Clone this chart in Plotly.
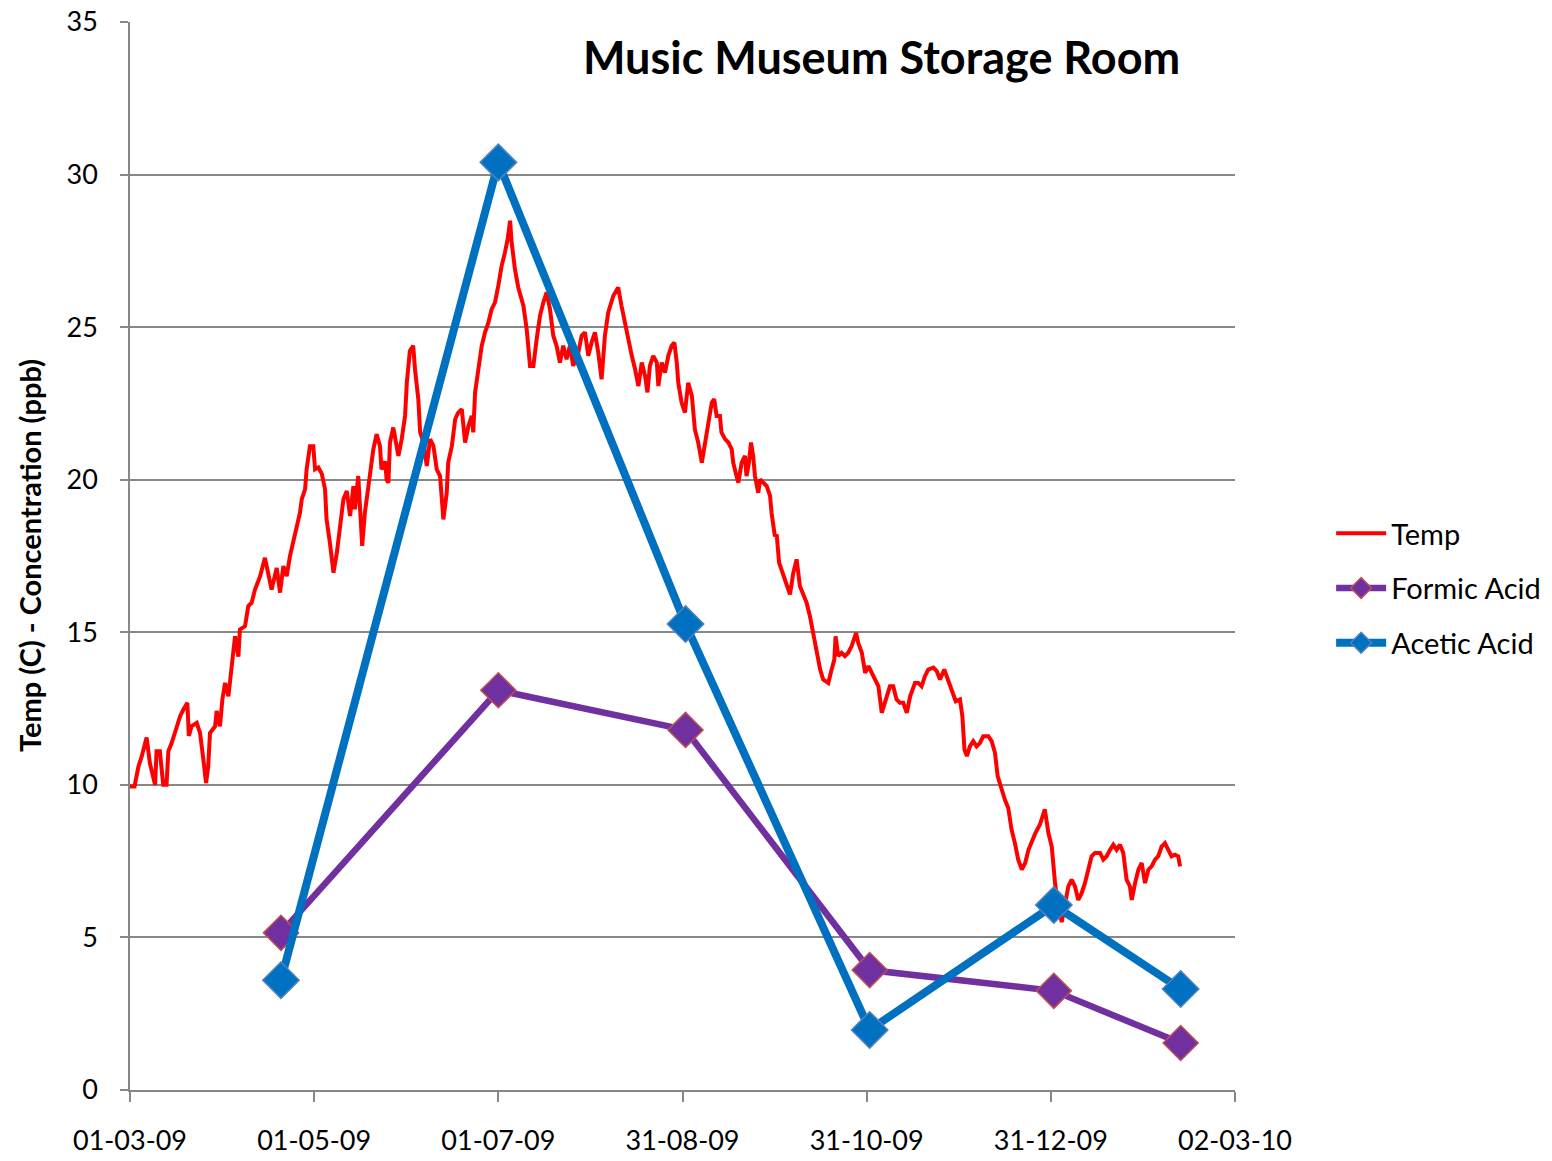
import pandas as pd
import plotly.graph_objects as go

# Storage-room temperature log (days after 01-03-09, degrees C)
temp_day = [
    0, 1.5, 2.8, 3.9, 5.5, 6.6, 8.3, 8.8, 9.9, 10.5, 11.0, 12.1, 12.7, 13.8, 14.9,
    16.6, 17.7, 19.0, 19.5, 20.4, 22.1, 23.2, 24.3, 25.2, 25.9, 26.5, 28.2, 28.7,
    29.8, 30.6, 31.5, 32.6, 33.7, 34.8, 35.9, 36.4, 38.1, 39.2, 40.3, 41.4, 42.5,
    43.1, 44.7, 45.8, 46.9, 48.6, 49.7, 50.8, 51.9, 53.0, 54.1, 55.2, 56.3, 56.9,
    58.0, 58.5, 59.6, 60.7, 61.3, 62.4, 63.5, 64.6, 65.1, 66.2, 67.4, 68.5, 69.6,
    70.7, 71.8, 72.9, 74.0, 74.5, 75.6, 76.2, 76.9, 77.8, 78.9, 80.0, 80.6, 81.7,
    82.8, 83.3, 84.5, 85.0, 85.6, 86.1, 87.2, 88.9, 90.0, 91.1, 91.7, 92.7, 93.8,
    94.4, 95.5, 96.1, 97.2, 98.3, 99.4, 100.5, 101.6, 102.7, 103.8, 104.9, 105.4,
    106.6, 107.7, 108.7, 109.9, 111.0, 112.1, 113.2, 113.7, 114.3, 115.4, 116.5,
    117.6, 118.7, 119.8, 120.9, 122.0, 123.1, 124.2, 125.1, 125.9, 126.4, 127.5,
    128.6, 130.3, 131.4, 132.5, 133.6, 134.7, 135.8, 136.9, 138.0, 139.1, 140.2,
    141.3, 142.4, 143.5, 144.6, 145.7, 146.8, 148.5, 149.6, 150.7, 151.8, 152.9,
    154.0, 155.1, 156.2, 157.3, 158.4, 160.1, 161.7, 162.8, 163.9, 165.0, 166.2,
    167.3, 168.4, 169.5, 170.6, 171.4, 172.2, 173.3, 174.5, 175.0, 176.1, 177.2,
    178.3, 179.4, 180.3, 181.1, 181.6, 182.7, 183.8, 184.9, 186.1, 187.1, 188.2,
    189.4, 190.5, 191.6, 192.7, 193.5, 194.3, 195.4, 195.9, 197.1, 198.2, 199.3,
    199.8, 200.9, 201.5, 202.6, 203.7, 204.2, 205.0, 205.7, 206.4, 207.0, 208.1,
    208.7, 209.8, 210.9, 212.0, 212.5, 213.6, 214.2, 215.0, 216.4, 217.5, 218.6,
    219.7, 220.8, 221.9, 223.0, 224.1, 225.2, 226.3, 227.4, 228.6, 229.6, 231.3,
    232.4, 233.3, 233.7, 234.6, 235.7, 236.8, 237.9, 239.0, 240.5, 241.2, 242.4,
    243.5, 244.6, 245.7, 246.8, 247.9, 249.0, 250.1, 251.7, 252.8, 253.9, 255.0,
    256.1, 257.3, 258.4, 260.0, 261.1, 262.2, 263.3, 264.4, 266.1, 267.2, 268.3,
    269.7, 270.5, 271.6, 272.7, 273.5, 274.9, 275.7, 276.4, 277.2, 278.2, 279.3,
    280.4, 281.5, 282.6, 284.3, 285.4, 286.5, 287.4, 288.7, 289.8, 290.9, 292.0,
    293.1, 294.2, 295.4, 296.5, 297.6, 298.7, 299.8, 301.4, 303.0, 304.2, 305.3,
    306.4, 307.5, 308.6, 309.7, 310.8, 311.9, 313.0, 314.1, 315.2, 316.3, 317.4,
    318.5, 319.6, 321.3, 322.4, 323.5, 324.6, 325.7, 326.8, 327.9, 329.0, 330.1,
    331.2, 331.8, 332.9, 334.0, 335.1, 336.2, 337.3, 338.4, 339.5, 340.6, 341.7,
    342.8, 343.9, 345.0, 346.1, 347.2, 347.8,
]
temp_c = [
    9.95, 9.95, 10.6, 10.94, 11.55, 10.7, 10.0, 11.1, 11.1, 10.5, 10.0, 10.0, 11.1,
    11.37, 11.7, 12.25, 12.47, 12.69, 11.6, 11.92, 12.03, 11.7, 10.83, 10.06, 10.6,
    11.7, 11.92, 12.42, 11.92, 12.8, 13.34, 12.9, 13.9, 14.87, 14.2, 15.09, 15.2,
    15.86, 15.97, 16.4, 16.68, 16.84, 17.44, 16.95, 16.4, 17.11, 16.3, 17.17, 16.84,
    17.5, 17.94, 18.37, 18.92, 19.36, 19.69, 20.34, 21.1, 21.1, 20.34, 20.4, 20.2,
    19.69, 18.7, 17.94, 16.95, 17.6, 18.37, 19.36, 19.63, 18.81, 19.79, 19.03, 20.12,
    18.92, 17.83, 18.92, 19.79, 20.67, 21.0, 21.49, 21.1, 20.34, 20.6, 20.0, 19.9,
    21.22, 21.71, 20.78, 21.33, 22.09, 23.19, 24.22, 24.39, 23.62, 22.64, 21.55,
    21.22, 20.45, 21.33, 21.11, 20.34, 20.12, 18.7, 19.57, 20.56, 21.1, 21.98, 22.2,
    22.31, 21.22, 21.76, 22.09, 21.55, 22.86, 23.73, 24.39, 24.83, 25.15, 25.59,
    25.81, 26.36, 27.01, 27.45, 27.89, 28.49, 27.78, 26.9, 26.3, 25.7, 24.93, 23.73,
    23.73, 24.61, 25.37, 25.81, 26.14, 25.59, 24.72, 24.39, 23.84, 24.39, 23.95,
    24.39, 23.73, 24.17, 24.72, 24.83, 24.06, 24.5, 24.83, 24.17, 23.29, 24.72,
    25.48, 26.03, 26.3, 25.7, 25.15, 24.61, 24.06, 23.62, 23.07, 23.84, 23.4, 22.86,
    23.73, 24.06, 23.84, 23.07, 23.84, 23.51, 24.06, 24.39, 24.5, 23.84, 23.18,
    22.53, 22.2, 23.18, 22.75, 21.65, 21.22, 20.56, 21.22, 21.98, 22.53, 22.64,
    22.09, 22.09, 21.55, 21.33, 21.22, 21.0, 20.56, 20.12, 19.9, 20.56, 20.78, 20.12,
    20.56, 21.22, 20.78, 20.12, 19.57, 20.01, 19.9, 19.79, 19.47, 18.92, 18.15, 18.2,
    17.28, 16.84, 16.51, 16.24, 16.95, 17.39, 16.51, 16.19, 15.97, 15.53, 14.98,
    14.44, 13.78, 13.45, 13.34, 13.78, 14.11, 14.87, 14.22, 14.33, 14.22, 14.33,
    14.54, 14.98, 14.65, 14.33, 13.67, 13.89, 13.67, 13.45, 13.23, 12.36, 12.69,
    13.23, 13.23, 12.8, 12.69, 12.69, 12.36, 12.9, 13.34, 13.34, 13.23, 13.56, 13.78,
    13.84, 13.73, 13.45, 13.78, 13.56, 13.23, 13.01, 12.74, 12.8, 12.25, 11.15,
    10.94, 11.26, 11.43, 11.26, 11.37, 11.59, 11.59, 11.43, 11.05, 10.28, 9.84, 9.51,
    9.24, 8.53, 8.09, 7.55, 7.22, 7.44, 7.87, 8.15, 8.4, 8.7, 9.2, 8.42, 7.98, 6.78,
    6.0, 5.5, 6.13, 6.67, 6.89, 6.67, 6.23, 6.45, 6.78, 7.22, 7.66, 7.77, 7.77, 7.55,
    7.66, 7.87, 8.04, 7.87, 8.04, 7.77, 6.89, 6.67, 6.23, 6.78, 7.22, 7.44, 6.78,
    7.22, 7.33, 7.55, 7.66, 7.98, 8.09, 7.87, 7.66, 7.71, 7.66, 7.33,
]

# Passive-sampler results (ppb)
sample_dates = ["2009-04-20", "2009-07-01", "2009-09-01", "2009-11-01", "2010-01-01", "2010-02-12"]
formic_ppb = [5.15, 13.1, 11.8, 3.93, 3.25, 1.54]
acetic_ppb = [3.6, 30.4, 15.27, 1.97, 6.06, 3.31]

# Axis ticks
tick_dates = ["2009-03-01", "2009-05-01", "2009-07-01", "2009-08-31",
              "2009-10-31", "2009-12-31", "2010-03-02"]
y_ticks = [0, 5, 10, 15, 20, 25, 30, 35]

start = pd.Timestamp("2009-03-01")
temp_x = start + pd.to_timedelta(temp_day, unit="D")

FONT = "Lato, 'Noto Sans', sans-serif"
GRID = "#878787"

fig = go.Figure()
fig.add_trace(go.Scatter(
    x=temp_x, y=temp_c, name="Temp", mode="lines",
    line=dict(color="#FF0000", width=4), legendgroup="t",
))
fig.add_trace(go.Scatter(
    x=pd.to_datetime(sample_dates), y=formic_ppb, name="Formic Acid",
    mode="lines+markers", legendgroup="f",
    line=dict(color="#7030A0", width=6.5),
    marker=dict(symbol="diamond", size=27, color="#7030A0",
                line=dict(color="#C0504D", width=1.5)),
))
fig.add_trace(go.Scatter(
    x=pd.to_datetime(sample_dates), y=acetic_ppb, name="Acetic Acid",
    mode="lines+markers", legendgroup="a",
    line=dict(color="#0070C0", width=8),
    marker=dict(symbol="diamond", size=28, color="#0070C0",
                line=dict(color="#4F81BD", width=1.5)),
))

fig.update_layout(
    width=1552, height=1161,
    margin=dict(l=130, r=317, t=22, b=71, autoexpand=False),
    paper_bgcolor="white", plot_bgcolor="white",
    font=dict(family=FONT, color="black"),
    showlegend=True,
    legend=dict(
        x=1.087, y=0.545, xanchor="left", yanchor="top",
        font=dict(size=29, family=FONT),
        tracegroupgap=14, itemwidth=50,
        bgcolor="rgba(0,0,0,0)",
    ),
    xaxis=dict(
        type="date", automargin=False,
        range=[start, pd.Timestamp("2010-03-02")],
        tickvals=pd.to_datetime(tick_dates), tickformat="%d-%m-%y",
        tickfont=dict(size=27, family=FONT),
        ticks="outside", ticklen=10, tickwidth=1.5, tickcolor=GRID,
        ticklabelstandoff=16,
        showline=True, linecolor=GRID, linewidth=1.5,
        showgrid=False, zeroline=False,
    ),
    yaxis=dict(
        range=[0, 35], tickvals=y_ticks, automargin=False,
        tickfont=dict(size=27, family=FONT),
        ticks="outside", ticklen=8, tickwidth=1.5, tickcolor=GRID,
        ticklabelstandoff=17,
        showline=True, linecolor=GRID, linewidth=1.5,
        showgrid=True, gridcolor=GRID, gridwidth=1.5,
        zeroline=False,
    ),
    annotations=[
        dict(text="<b>Music Museum Storage Room</b>", xref="paper", yref="paper",
             x=0.68, y=0.967, xanchor="center", yanchor="middle", showarrow=False,
             font=dict(size=45, family=FONT, color="black")),
        dict(text="<b>Temp (C) - Concentration (ppb)</b>", xref="paper", yref="paper",
             x=-0.0905, y=0.501, xanchor="center", yanchor="middle", showarrow=False,
             textangle=-90, font=dict(size=29, family=FONT, color="black")),
    ],
)

fig.write_html("out.html")
